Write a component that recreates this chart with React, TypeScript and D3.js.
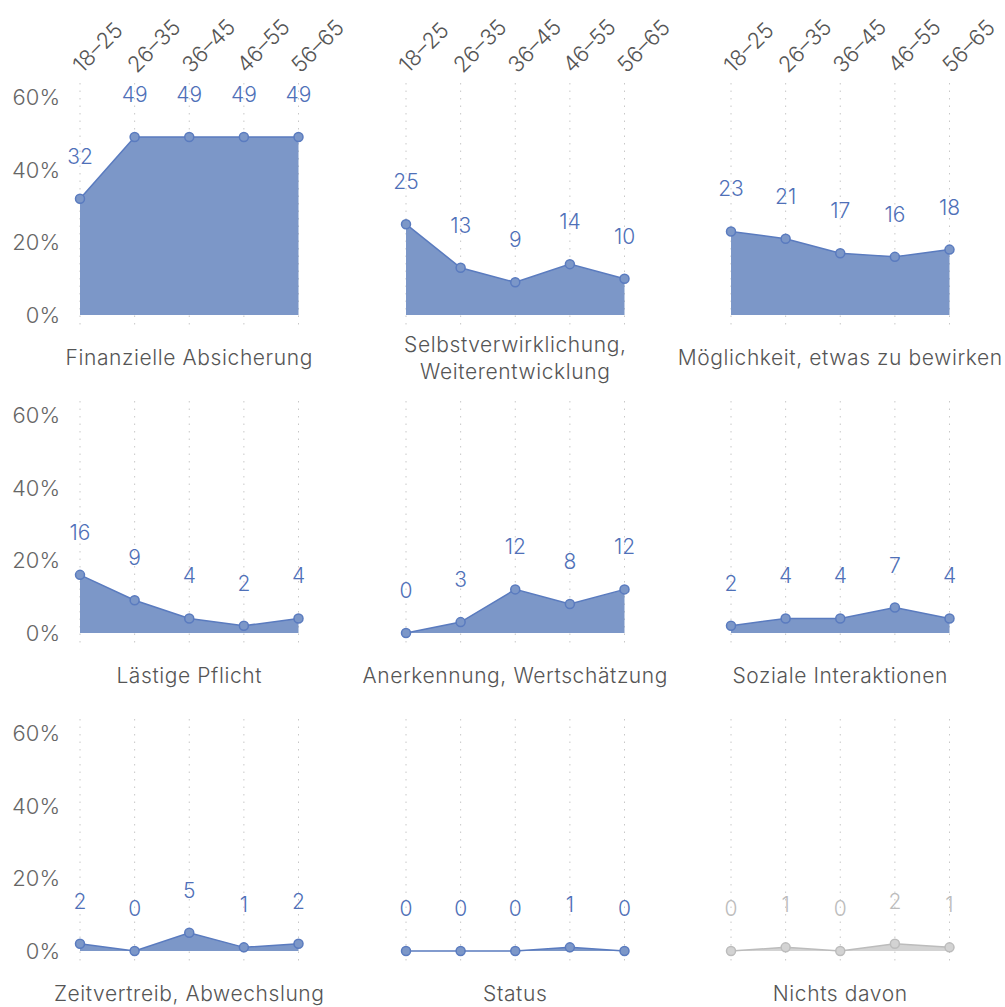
import * as d3 from 'd3';

const ages = ['18–25', '26–35', '36–45', '46–55', '56–65'];
const titles = [
  ['Finanzielle Absicherung'],
  ['Selbstverwirklichung,', 'Weiterentwicklung'],
  ['Möglichkeit, etwas zu bewirken'],
  ['Lästige Pflicht'],
  ['Anerkennung, Wertschätzung'],
  ['Soziale Interaktionen'],
  ['Zeitvertreib, Abwechslung'],
  ['Status'],
  ['Nichts davon'],
];
const finanziell = [32, 49, 49, 49, 49];
const selbst = [25, 13, 9, 14, 10];
const bewirken = [23, 21, 17, 16, 18];
const pflicht = [16, 9, 4, 2, 4];
const anerkennung = [0, 3, 12, 8, 12];
const sozial = [2, 4, 4, 7, 4];
const zeitvertreib = [2, 0, 5, 1, 2];
const status = [0, 0, 0, 1, 0];
const nichts = [0, 1, 0, 2, 1];
const series = [finanziell, selbst, bewirken, pflicht, anerkennung, sozial, zeitvertreib, status, nichts];
const greyed = [false, false, false, false, false, false, false, false, true];
const yTicks = [0, 20, 40, 60];

const width = 1005;
const height = 1007;
const font = 'Inter, "Liberation Sans", sans-serif';

const colLeft = [80, 406, 731];
const panelW = 218.5;
const rowBase = [315, 633, 951];
const panelH = 218;

const blue = { fill: '#7c97c8', stroke: '#5a7bbf', text: '#4f70b8' };
const grey = { fill: '#d3d3d3', stroke: '#bcbcbc', text: '#bcbcbc' };

function Panel({ idx }: { idx: number }) {
  const col = idx % 3;
  const row = Math.floor(idx / 3);
  const values = series[idx];
  const c = greyed[idx] ? grey : blue;

  const x = d3.scalePoint<string>().domain(ages).range([colLeft[col], colLeft[col] + panelW]);
  const y = d3.scaleLinear().domain([0, 60]).range([rowBase[row], rowBase[row] - panelH]);

  const pts = values.map((v, i) => ({ age: ages[i], v }));
  const area = d3.area<{ age: string; v: number }>()
    .x((d) => x(d.age)!)
    .y0(y(0))
    .y1((d) => y(d.v));
  const line = d3.line<{ age: string; v: number }>()
    .x((d) => x(d.age)!)
    .y((d) => y(d.v));

  const mid = colLeft[col] + panelW / 2;
  const lines = titles[idx];

  return (
    <g>
      {ages.map((a) => (
        <line key={a} x1={x(a)} x2={x(a)} y1={y(60) - 14} y2={y(0) + 10}
          stroke="#c8c8c8" strokeWidth={1} strokeDasharray="1.5 6" />
      ))}
      <path d={area(pts) || ''} fill={c.fill} />
      <path d={line(pts) || ''} fill="none" stroke={c.stroke} strokeWidth={1.5} />
      {pts.map((d) => (
        <circle key={d.age} cx={x(d.age)} cy={y(d.v)} r={4.5} fill={c.fill} stroke={c.stroke} strokeWidth={1.5} />
      ))}
      {pts.map((d) => (
        <text key={d.age} x={x(d.age)} y={y(d.v) - 35} fill={c.text} fontSize={21} fontWeight={300}
          textAnchor="middle" fontFamily={font}>{d.v}</text>
      ))}
      {col === 0 && yTicks.map((t) => (
        <text key={t} x={60} y={y(t) + 8} fill="#666" fontSize={22} fontWeight={300} textAnchor="end"
          fontFamily={font}>{t}%</text>
      ))}
      {row === 0 && ages.map((a) => (
        <text key={a} transform={`translate(${x(a)! + 2},${74}) rotate(-45)`} fill="#555" fontSize={22}
          fontWeight={300} fontFamily={font}>{a}</text>
      ))}
      {lines.map((t, i) => (
        <text key={t} x={mid} y={y(0) + 50 + (i - (lines.length - 1) / 2) * 27} fill="#555" fontSize={21}
          fontWeight={300} letterSpacing={0.6} textAnchor="middle" fontFamily={font}>{t}</text>
      ))}
    </g>
  );
}

export default function App() {
  return (
    <>
      <style>{`body{margin:0}`}</style>
      <svg width={width} height={height} style={{ display: 'block', background: '#fff' }}>
        {series.map((_, i) => <Panel key={i} idx={i} />)}
      </svg>
    </>
  );
}
